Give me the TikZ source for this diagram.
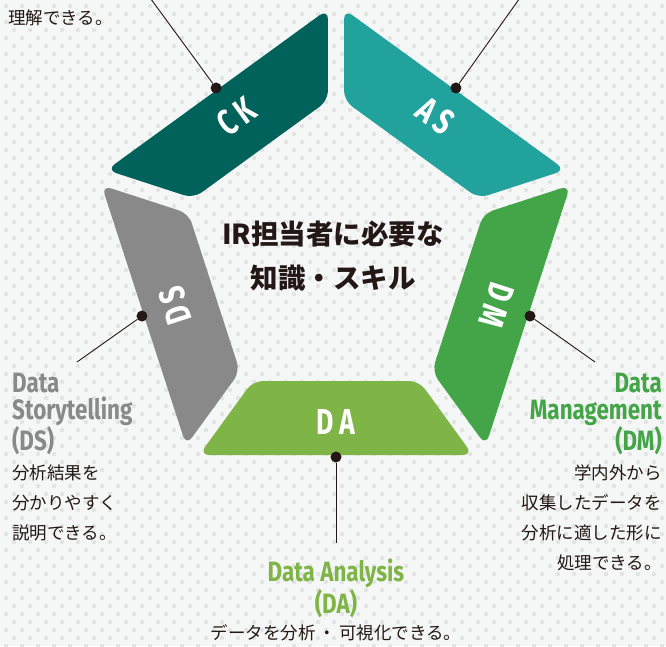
\documentclass[tikz,border=0pt]{standalone}
\usepackage{fontspec}
\usetikzlibrary{positioning}
\newfontfamily\jpfont{Noto Sans CJK JP}
\newfontfamily\condfont[FakeStretch=0.8]{Fira Sans}
\newfontfamily\labelfont[FakeStretch=0.74]{Fira Sans}
\definecolor{bgpaper}{HTML}{F5F6F6}
\definecolor{dotgray}{HTML}{E2E3E3}
\definecolor{ckteal}{HTML}{00625A}
\definecolor{asteal}{HTML}{21A29D}
\definecolor{dmgreen}{HTML}{43A548}
\definecolor{dagreen}{HTML}{7FB446}
\definecolor{dsgray}{HTML}{898989}
\definecolor{ink}{HTML}{231815}
\tikzstyle{segment}  = [rounded corners=10pt]
\tikzstyle{seglabel} = [text=white, inner sep=0pt, font=\labelfont\bfseries\fontsize{36}{36}\selectfont]
\tikzstyle{pin}      = [circle, fill=ink, inner sep=0pt, minimum size=11pt]
\tikzstyle{leader}   = [draw=ink, line width=0.9pt]
\tikzstyle{heading}  = [inner sep=0pt, font=\condfont\bfseries\fontsize{28}{27}\selectfont]
\tikzstyle{desc}     = [inner sep=0pt, text=ink, font=\jpfont\fontsize{17.5}{30}\selectfont]
\tikzstyle{title}    = [inner sep=0pt, text=ink, align=center, font=\jpfont\bfseries\fontsize{27.5}{44}\selectfont]

\begin{document}
\begin{tikzpicture}[x=1pt, y=-1pt]
            \useasboundingbox (0,0) rectangle (666,646);
            \clip (0,0) rectangle (666,646);
            \fill[bgpaper] (0,0) rectangle (666,646);
            % dotted paper
            \foreach \a in {0,...,41}
                \foreach \b in {0,...,40} {
                    \fill[dotgray] (6+16*\a, 6+16*\b) circle (2.2pt);
                    \fill[dotgray] (14+16*\a, 14+16*\b) circle (2.2pt);
                }

            \begin{scope}[shift={(336,253)}, yscale=-1]
                \fill[ckteal,  segment, rotate=144]  (-136.8,-202) -- (136.8,-202) -- (83.1,-128) -- (-83.1,-128) -- cycle;
                \fill[asteal,  segment, rotate=-144] (-136.8,-202) -- (136.8,-202) -- (83.1,-128) -- (-83.1,-128) -- cycle;
                \fill[dmgreen, segment, rotate=-72]  (-136.8,-202) -- (136.8,-202) -- (83.1,-128) -- (-83.1,-128) -- cycle;
                \fill[dagreen, segment]              (-136.8,-202) -- (136.8,-202) -- (83.1,-128) -- (-83.1,-128) -- cycle;
                \fill[dsgray,  segment, rotate=72]   (-136.8,-202) -- (136.8,-202) -- (83.1,-128) -- (-83.1,-128) -- cycle;

                \node[seglabel, rotate=36]   (ck) at (126:169) {C\hspace{5pt}K};
                \node[seglabel, rotate=-36]  (as) at (54:169)  {A\hspace{5pt}S};
                \node[seglabel, rotate=-108] (dm) at (-18:169) {D\hspace{5pt}M};
                \node[seglabel]              (da) at (270:169) {D\hspace{5pt}A};
                \node[seglabel, rotate=108]  (ds) at (198:169) {D\hspace{5pt}S};

                \node[pin] (pinck) at (126:204) {};
                \node[pin] (pinas) at (54:204)  {};
                \node[pin] (pindm) at (-18:204) {};
                \node[pin] (pinda) at (270:204) {};
                \node[pin] (pinds) at (198:204) {};
            \end{scope}

            \node[title] (title) at (333,256) {IR担当者に必要な\\知識・スキル};

            \coordinate (ckend) at (148,-5);
            \coordinate (asend) at (522,-5);
            \coordinate (dsend) at (77,362);
            \coordinate (dmend) at (595,362);
            \coordinate (daend) at (336,543);

            \draw[leader] (pinck) -- (ckend);
            \draw[leader] (pinas) -- (asend);
            \draw[leader] (pinds) -- (dsend);
            \draw[leader] (pindm) -- (dmend);
            \draw[leader] (pinda) -- (daend);

            \node[desc, anchor=north west] (ckdesc) at (8,10) {理解できる。};

            \node[heading, text=dsgray, align=left, anchor=north west] (dshead) at (12,373) {Data\\Storytelling\\(DS)};
            \node[desc, align=left, below=9pt of dshead.south west, anchor=north west] (dsdesc) {分析結果を\\分かりやすく\\説明できる。};

            \node[heading, text=dmgreen, align=right, anchor=north east] (dmhead) at (662,373) {Data\\Management\\(DM)};
            \node[desc, align=right, below=9pt of dmhead.south east, anchor=north east] (dmdesc) {学内外から\\収集したデータを\\分析に適した形に\\処理できる。};

            \node[heading, text=dagreen, align=center, anchor=north] (dahead) at (336,559) {Data Analysis\\(DA)};
            \node[desc, below=7pt of dahead.south] (dadesc) {データを分析\hspace{3pt}・\hspace{3pt}可視化できる。};
        \end{tikzpicture}
\end{document}
